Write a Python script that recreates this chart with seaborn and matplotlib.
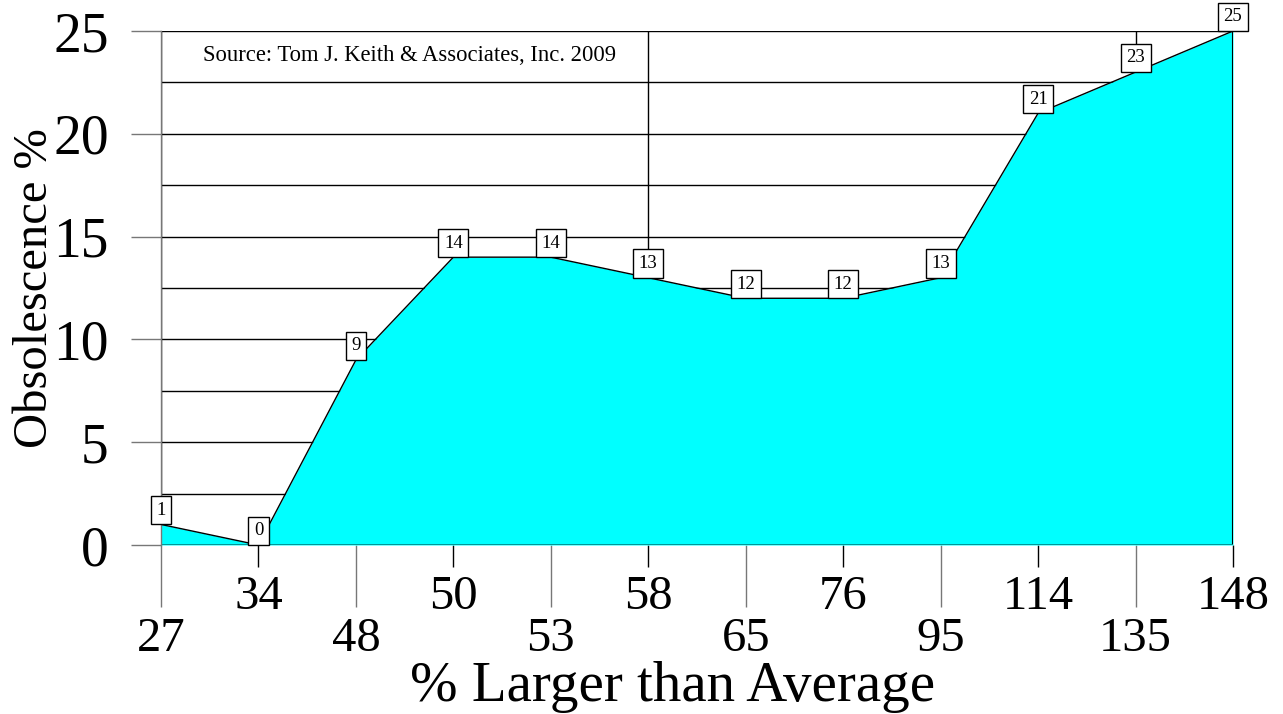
"""
Obsolescence vs. size area chart (Tom J. Keith & Associates, 2009).
"""

import matplotlib

matplotlib.use("Agg")
import matplotlib.pyplot as plt
import numpy as np
import pandas as pd
import seaborn as sns

# Data
size_labels = ["27", "34", "48", "50", "53", "58", "65", "76", "95", "114", "135", "148"]
obsolescence = [1, 0, 9, 14, 14, 13, 12, 12, 13, 21, 23, 25]
y_major = [0, 5, 10, 15, 20, 25]
y_grid = [2.5, 5, 7.5, 10, 12.5, 15, 17.5, 20, 22.5, 25]
x_grid_idx = [0, 5, 10]
source_note = "Source: Tom J. Keith & Associates, Inc. 2009"

sns.set_theme(style="white")
plt.rcParams["font.family"] = ["Liberation Serif", "DejaVu Serif"]
plt.rcParams["text.color"] = "black"
plt.rcParams["axes.labelcolor"] = "black"

df = pd.DataFrame(
    {"pos": np.arange(len(size_labels)), "label": size_labels, "value": obsolescence}
)

fig = plt.figure(figsize=(12.83, 7.14), dpi=100)
ax = fig.add_axes([161 / 1283, 169 / 714, 1072 / 1283, 514 / 714])

# Grid lines behind the area
for g in y_grid:
    ax.axhline(g, color="black", lw=1, zorder=0)
for i in x_grid_idx:
    ax.axvline(df["pos"][i], color="black", lw=1, zorder=0)

# Area + outline
ax.fill_between(df["pos"], df["value"], color="#00FFFF", lw=0, zorder=2)
sns.lineplot(data=df, x="pos", y="value", color="black", lw=1, ax=ax, zorder=3)
ax.vlines(df["pos"].iloc[-1], 0, df["value"].iloc[-1], color="black", lw=1.5, zorder=3)
ax.hlines(0, df["pos"].min(), df["pos"].max(), color="#008B8B", lw=2, zorder=3)

# Value labels in boxes, box bottom sitting on the point
label_fs = 13.5
box_pad = 0.3
for x, v in zip(df["pos"], df["value"]):
    ax.annotate(
        str(v), (x, v), xytext=(0, box_pad * label_fs), textcoords="offset points",
        ha="center", va="bottom", fontsize=label_fs, zorder=5, annotation_clip=False,
        bbox=dict(boxstyle=f"square,pad={box_pad}", fc="white", ec="black", lw=1),
    )

ax.text(0.039, 23.8, source_note, fontsize=16.3, va="center",
        transform=ax.get_yaxis_transform())

ax.set_xlim(df["pos"].min(), df["pos"].max())
ax.set_ylim(0, 25)

# Staggered x tick labels: long ticks (lower row) and short ticks (upper row)
even = df[df["pos"] % 2 == 0]
odd = df[df["pos"] % 2 == 1]
ax.set_xticks(even["pos"], labels=even["label"])
ax.set_xticks(odd["pos"], labels=odd["label"], minor=True)
ax.tick_params(axis="x", which="major", length=44.6, width=1, color="#777777",
               pad=7, labelsize=35, labelcolor="black", bottom=True)
ax.tick_params(axis="x", which="minor", length=15.8, width=1, color="black",
               pad=6, labelsize=35, labelcolor="black", bottom=True)

ax.set_yticks(y_major)
ax.tick_params(axis="y", length=21.6, width=1, color="#777777", pad=16,
               labelsize=40, labelcolor="black", left=True)

for side in ["top", "right", "bottom"]:
    ax.spines[side].set_visible(False)
ax.spines["left"].set_color("#777777")
ax.spines["left"].set_linewidth(1)
ax.spines["left"].set_zorder(4)

ax.set_xlabel("% Larger than Average", fontsize=41)
ax.xaxis.set_label_coords(0.477, -0.304)
ax.xaxis.label.set_va("baseline")
ax.set_ylabel("Obsolescence %", fontsize=35)
ax.yaxis.set_label_coords(-0.118, 0.5)
ax.yaxis.label.set_va("center")

fig.savefig("out.png", dpi=100)
